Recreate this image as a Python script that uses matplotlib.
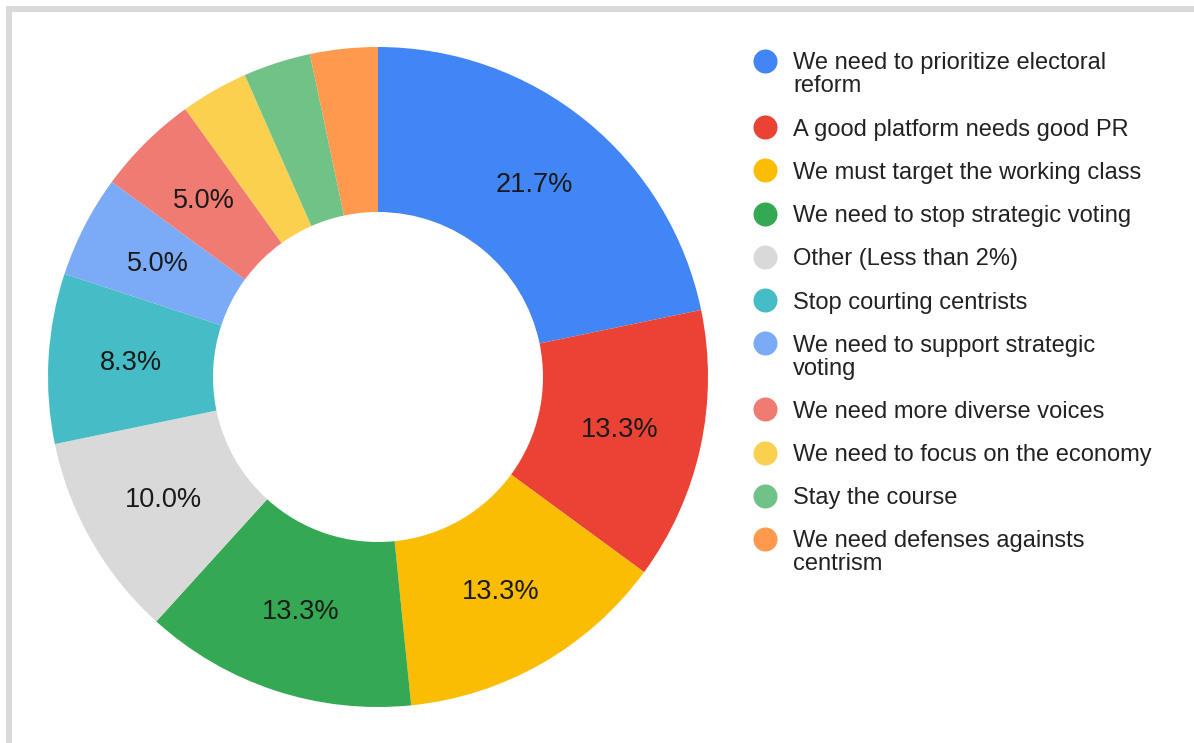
import matplotlib
matplotlib.use("Agg")
import matplotlib.pyplot as plt
from matplotlib.patches import Rectangle

plt.rcParams['font.family'] = ['Liberation Sans', 'DejaVu Sans']

categories = [
    "We need to prioritize electoral\nreform",
    "A good platform needs good PR",
    "We must target the working class",
    "We need to stop strategic voting",
    "Other (Less than 2%)",
    "Stop courting centrists",
    "We need to support strategic\nvoting",
    "We need more diverse voices",
    "We need to focus on the economy",
    "Stay the course",
    "We need defenses againsts\ncentrism",
]
values = [21.7, 13.3, 13.3, 13.3, 10.0, 8.3, 5.0, 5.0, 3.3, 3.3, 3.3]
colors = ["#4285F4", "#EA4335", "#FBBC04", "#34A853", "#D9D9D9", "#46BDC6",
          "#7BAAF7", "#F07B72", "#FCD04F", "#71C287", "#FF994D"]

W, H = 1194, 743
fig = plt.figure(figsize=(W / 100, H / 100), dpi=100)
fig.patch.set_facecolor("white")

# frame (top and left grey bands)
fig.patches.append(Rectangle((6 / W, 0), 6 / W, (H - 6) / H, transform=fig.transFigure,
                             facecolor="#D9D9D9", edgecolor="none"))
fig.patches.append(Rectangle((6 / W, (H - 12) / H), (W - 6) / W, 6 / H, transform=fig.transFigure,
                             facecolor="#D9D9D9", edgecolor="none"))

cx, cy, r = 378, 377, 330
ax = fig.add_axes([(cx - r) / W, (H - cy - r) / H, 2 * r / W, 2 * r / H])

def fmt(p):
    return f"{p:.1f}%" if p >= 4 else ""

wedges, texts = ax.pie(values, colors=colors, startangle=90, counterclock=False,
                       radius=1.0, wedgeprops=dict(width=0.5, edgecolor="none"))[:2]
total = sum(values)
import numpy as np
ang = 90.0
for v in values:
    span = v / total * 360.0
    mid = np.deg2rad(ang - span / 2)
    s = fmt(v / total * 100)
    if s:
        ax.text(0.75 * np.cos(mid), 0.75 * np.sin(mid), s, ha="center", va="center",
                fontsize=19.5, color="#1a1a1a")
    ang -= span
ax.set_xlim(-1, 1)
ax.set_ylim(-1, 1)
ax.axis("off")

# legend
lax = fig.add_axes([0, 0, 1, 1])
lax.set_xlim(0, W)
lax.set_ylim(H, 0)
lax.axis("off")
y = 61.0
for cat, col in zip(categories, colors):
    lines = cat.split("\n")
    lax.plot([765], [y], "o", ms=17.3, color=col, mec="none")
    for i, ln in enumerate(lines):
        lax.text(793, y + 8.5 + i * 23, ln, ha="left", va="baseline",
                 fontsize=17, color="#222222")
    y += (len(lines) - 1) * 23 + 43.2

fig.savefig("out.png", dpi=100, facecolor="white")
